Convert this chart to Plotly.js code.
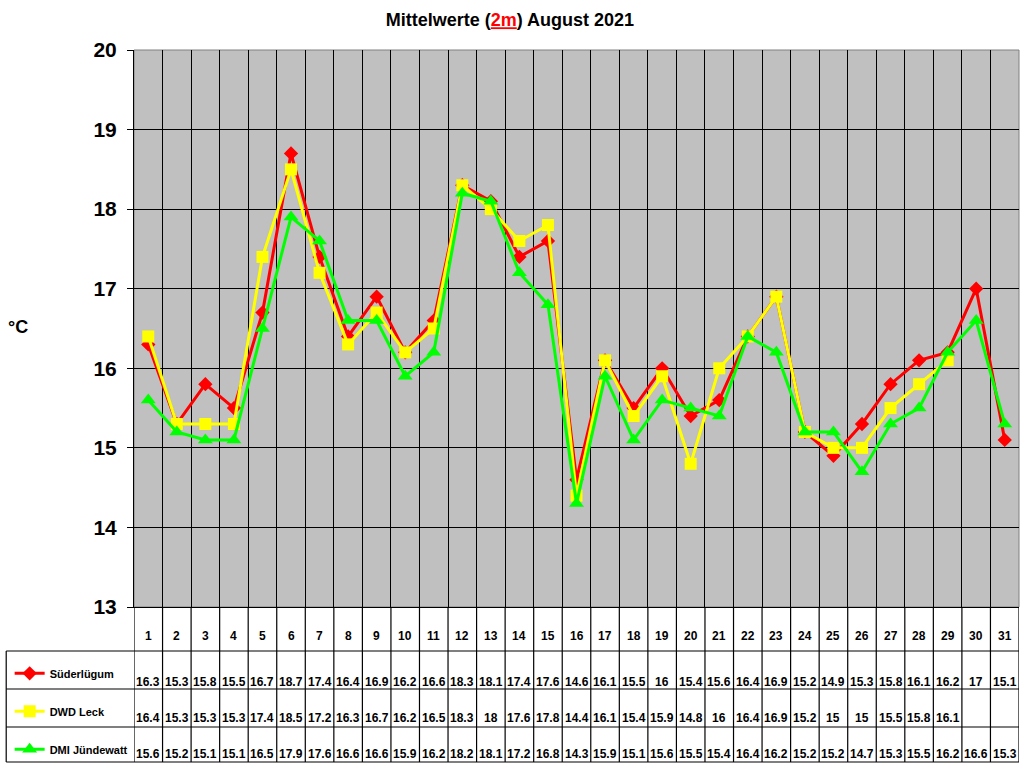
<!DOCTYPE html>
<html>
<head>
<meta charset="utf-8">
<script src="https://cdn.plot.ly/plotly-3.0.1.min.js"></script>
<style>
  body { margin: 0; background: #fff; }
  #chart { width: 1024px; height: 768px; }
</style>
</head>
<body>
<div id="chart"></div>
<script>
const days = [1, 2, 3, 4, 5, 6, 7, 8, 9, 10, 11, 12, 13, 14, 15, 16, 17, 18, 19, 20, 21, 22, 23, 24, 25, 26, 27, 28, 29, 30, 31];

const suederluegum = [16.3, 15.3, 15.8, 15.5, 16.7, 18.7, 17.4, 16.4, 16.9, 16.2, 16.6, 18.3, 18.1, 17.4, 17.6, 14.6,
    16.1, 15.5, 16, 15.4, 15.6, 16.4, 16.9, 15.2, 14.9, 15.3, 15.8, 16.1, 16.2, 17, 15.1];

const dwdLeck = [16.4, 15.3, 15.3, 15.3, 17.4, 18.5, 17.2, 16.3, 16.7, 16.2, 16.5, 18.3, 18, 17.6, 17.8, 14.4,
    16.1, 15.4, 15.9, 14.8, 16, 16.4, 16.9, 15.2, 15, 15, 15.5, 15.8, 16.1, null, null];

const dmiJuendewatt = [15.6, 15.2, 15.1, 15.1, 16.5, 17.9, 17.6, 16.6, 16.6, 15.9, 16.2, 18.2, 18.1, 17.2, 16.8, 14.3,
    15.9, 15.1, 15.6, 15.5, 15.4, 16.4, 16.2, 15.2, 15.2, 14.7, 15.3, 15.5, 16.2, 16.6, 15.3];

const seriesNames = ['Süderlügum', 'DWD Leck', 'DMI Jündewatt'];
const seriesColors = ['#FF0000', '#FFFF00', '#00FF00'];
const seriesSymbols = ['diamond', 'square', 'triangle-up'];
const seriesSizes = [11, 12, 13];
const seriesValues = [suederluegum, dwdLeck, dmiJuendewatt];

const font = 'Arial, "Liberation Sans", sans-serif';

// paper y positions of the table below the plot (plot is 557px tall)
const tableLines = [0, -0.079, -0.1472, -0.2154, -0.2783];
const headerY = -0.052;
const rowTextY = [-0.1346, -0.1993, -0.2639];

const data = seriesValues.map((vals, i) => ({
    x: days,
    y: vals,
    name: seriesNames[i],
    type: 'scatter',
    mode: 'lines+markers',
    legendgroup: 'g' + i,
    line: { color: seriesColors[i], width: 3 },
    marker: { color: seriesColors[i], symbol: seriesSymbols[i], size: seriesSizes[i] },
    connectgaps: false
}));

// column borders between the days
const borders = [];
for (let k = 0; k <= days.length; k++) borders.push(k + 0.5);

const shapes = [];
// table column lines
borders.forEach(b => {
    shapes.push({
        type: 'line', xref: 'x', yref: 'paper',
        x0: b, x1: b, y0: tableLines[4], y1: 0,
        line: { color: '#000', width: 1.2 }
    });
});
// table rows
for (let r = 1; r < tableLines.length; r++) {
    shapes.push({
        type: 'line', xref: 'paper', yref: 'paper',
        x0: -0.1444, x1: 1, y0: tableLines[r], y1: tableLines[r],
        line: { color: '#000', width: 1.2 }
    });
}
shapes.push({
    type: 'line', xref: 'paper', yref: 'paper',
    x0: -0.1444, x1: -0.1444, y0: tableLines[1], y1: tableLines[4],
    line: { color: '#000', width: 1.2 }
});
// plot frame (top and right in grey)
shapes.push({
    type: 'rect', xref: 'paper', yref: 'paper', x0: 0, x1: 1, y0: 0, y1: 1,
    line: { color: '#808080', width: 1 }, layer: 'below'
});

const annotations = [];
days.forEach((d, i) => {
    annotations.push({
        x: d, y: headerY, xref: 'x', yref: 'paper', text: String(d), showarrow: false,
        xanchor: 'center', yanchor: 'middle',
        font: { family: font, size: 12, color: '#000', weight: 'bold' }
    });
    seriesValues.forEach((vals, s) => {
        if (vals[i] === null) return;
        annotations.push({
            x: d, y: rowTextY[s], xref: 'x', yref: 'paper', text: String(vals[i]), showarrow: false,
            xanchor: 'center', yanchor: 'middle',
            font: { family: font, size: 12, color: '#000', weight: 'bold' }
        });
    });
});
annotations.push({
    x: -0.131, y: 0.503, xref: 'paper', yref: 'paper', text: '°C', showarrow: false,
    xanchor: 'center', yanchor: 'middle',
    font: { family: font, size: 18, weight: 'bold', color: '#000' }
});

const layout = {
    width: 1024,
    height: 768,
    margin: { l: 134, r: 5, t: 50, b: 161, autoexpand: false },
    paper_bgcolor: '#FFFFFF',
    plot_bgcolor: '#C0C0C0',
    font: { family: font, color: '#000' },
    title: {
        text: 'Mittelwerte (<span style="color:#FF0000"><u>2m</u></span>) August 2021',
        font: { family: font, size: 18, weight: 'bold', color: '#000' },
        x: 0.498, xanchor: 'center', y: 0.974, yanchor: 'middle'
    },
    xaxis: {
        range: [0.5, 31.5],
        tickvals: borders,
        ticktext: borders.map(() => ''),
        showgrid: true,
        gridcolor: '#000',
        gridwidth: 1,
        zeroline: false,
        ticks: '',
        showline: true,
        linecolor: '#000',
        fixedrange: true
    },
    yaxis: {
        range: [13, 20],
        dtick: 1,
        showgrid: true,
        gridcolor: '#000',
        gridwidth: 1,
        zeroline: false,
        showline: true,
        linecolor: '#000',
        ticks: 'outside',
        ticklen: 6,
        tickcolor: '#000',
        ticklabelstandoff: 6,
        tickfont: { family: font, size: 21, weight: 'bold', color: '#000' }
    },
    showlegend: true,
    legend: {
        x: -0.1405, xanchor: 'left',
        y: -0.093, yanchor: 'top',
        traceorder: 'grouped',
        tracegroupgap: 19,
        bgcolor: 'rgba(0,0,0,0)',
        font: { family: font, size: 11, weight: 'bold', color: '#000' },
        itemwidth: 30
    },
    shapes: shapes,
    annotations: annotations
};

Plotly.newPlot('chart', data, layout, { displayModeBar: false, staticPlot: true });
</script>
</body>
</html>
